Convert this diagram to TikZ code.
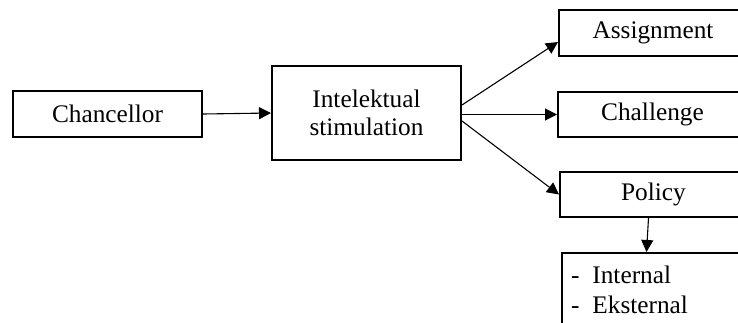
\documentclass[tikz,border=0pt]{standalone}
\usepackage{fontspec}
\setmainfont{Liberation Serif}
\usetikzlibrary{arrows.meta}
\begin{document}
\begin{tikzpicture}[x=0.5pt,y=-0.5pt,
  box/.style={draw=black,line width=1pt,inner sep=0pt,font=\fontsize{12.65}{14}\selectfont},
  conn/.style={draw=black,line width=0.55pt,-{Triangle[length=6pt,width=6pt]}}]
\useasboundingbox (0,0) rectangle (738,322);
\clip (0,0) rectangle (738,322);
\node[box,minimum width=94.5pt,minimum height=23pt] (chan) at (107.5,114) {Chancellor};
\node[box,minimum width=94.5pt,minimum height=47pt,align=center] (int) at (366.5,113) {Intelektual\\stimulation};
\node[box,minimum width=94pt,minimum height=23pt] (asg) at (653,33) {Assignment};
\node[box,minimum width=94.5pt,minimum height=22.5pt] (chl) at (652.5,114.5) {Challenge};
\node[box,minimum width=93.5pt,minimum height=22.5pt] (pol) at (653.5,194.5) {Policy};
\node[box,minimum height=44pt,text width=93pt,align=left,anchor=north west,font=\fontsize{12.65}{15}\selectfont] (lst) at (561,252) {\rule{0pt}{15pt}\hspace*{4.5pt}-\hspace{6.5pt}Internal\\\hspace*{4.5pt}-\hspace{6.5pt}Eksternal\\\strut};
\draw[conn] (chan.east) -- (int.west);
\draw[conn] ([yshift=4pt]int.east) -- ([yshift=-4.5pt]asg.west);
\draw[conn] (int.east |- chl.west) -- (chl.west);
\draw[conn] ([yshift=-4pt]int.east) -- (pol.west);
\draw[conn] ([xshift=-2.5pt]pol.south) -- ([xshift=-3.5pt]pol.south |- lst.north);
\end{tikzpicture}
\end{document}
